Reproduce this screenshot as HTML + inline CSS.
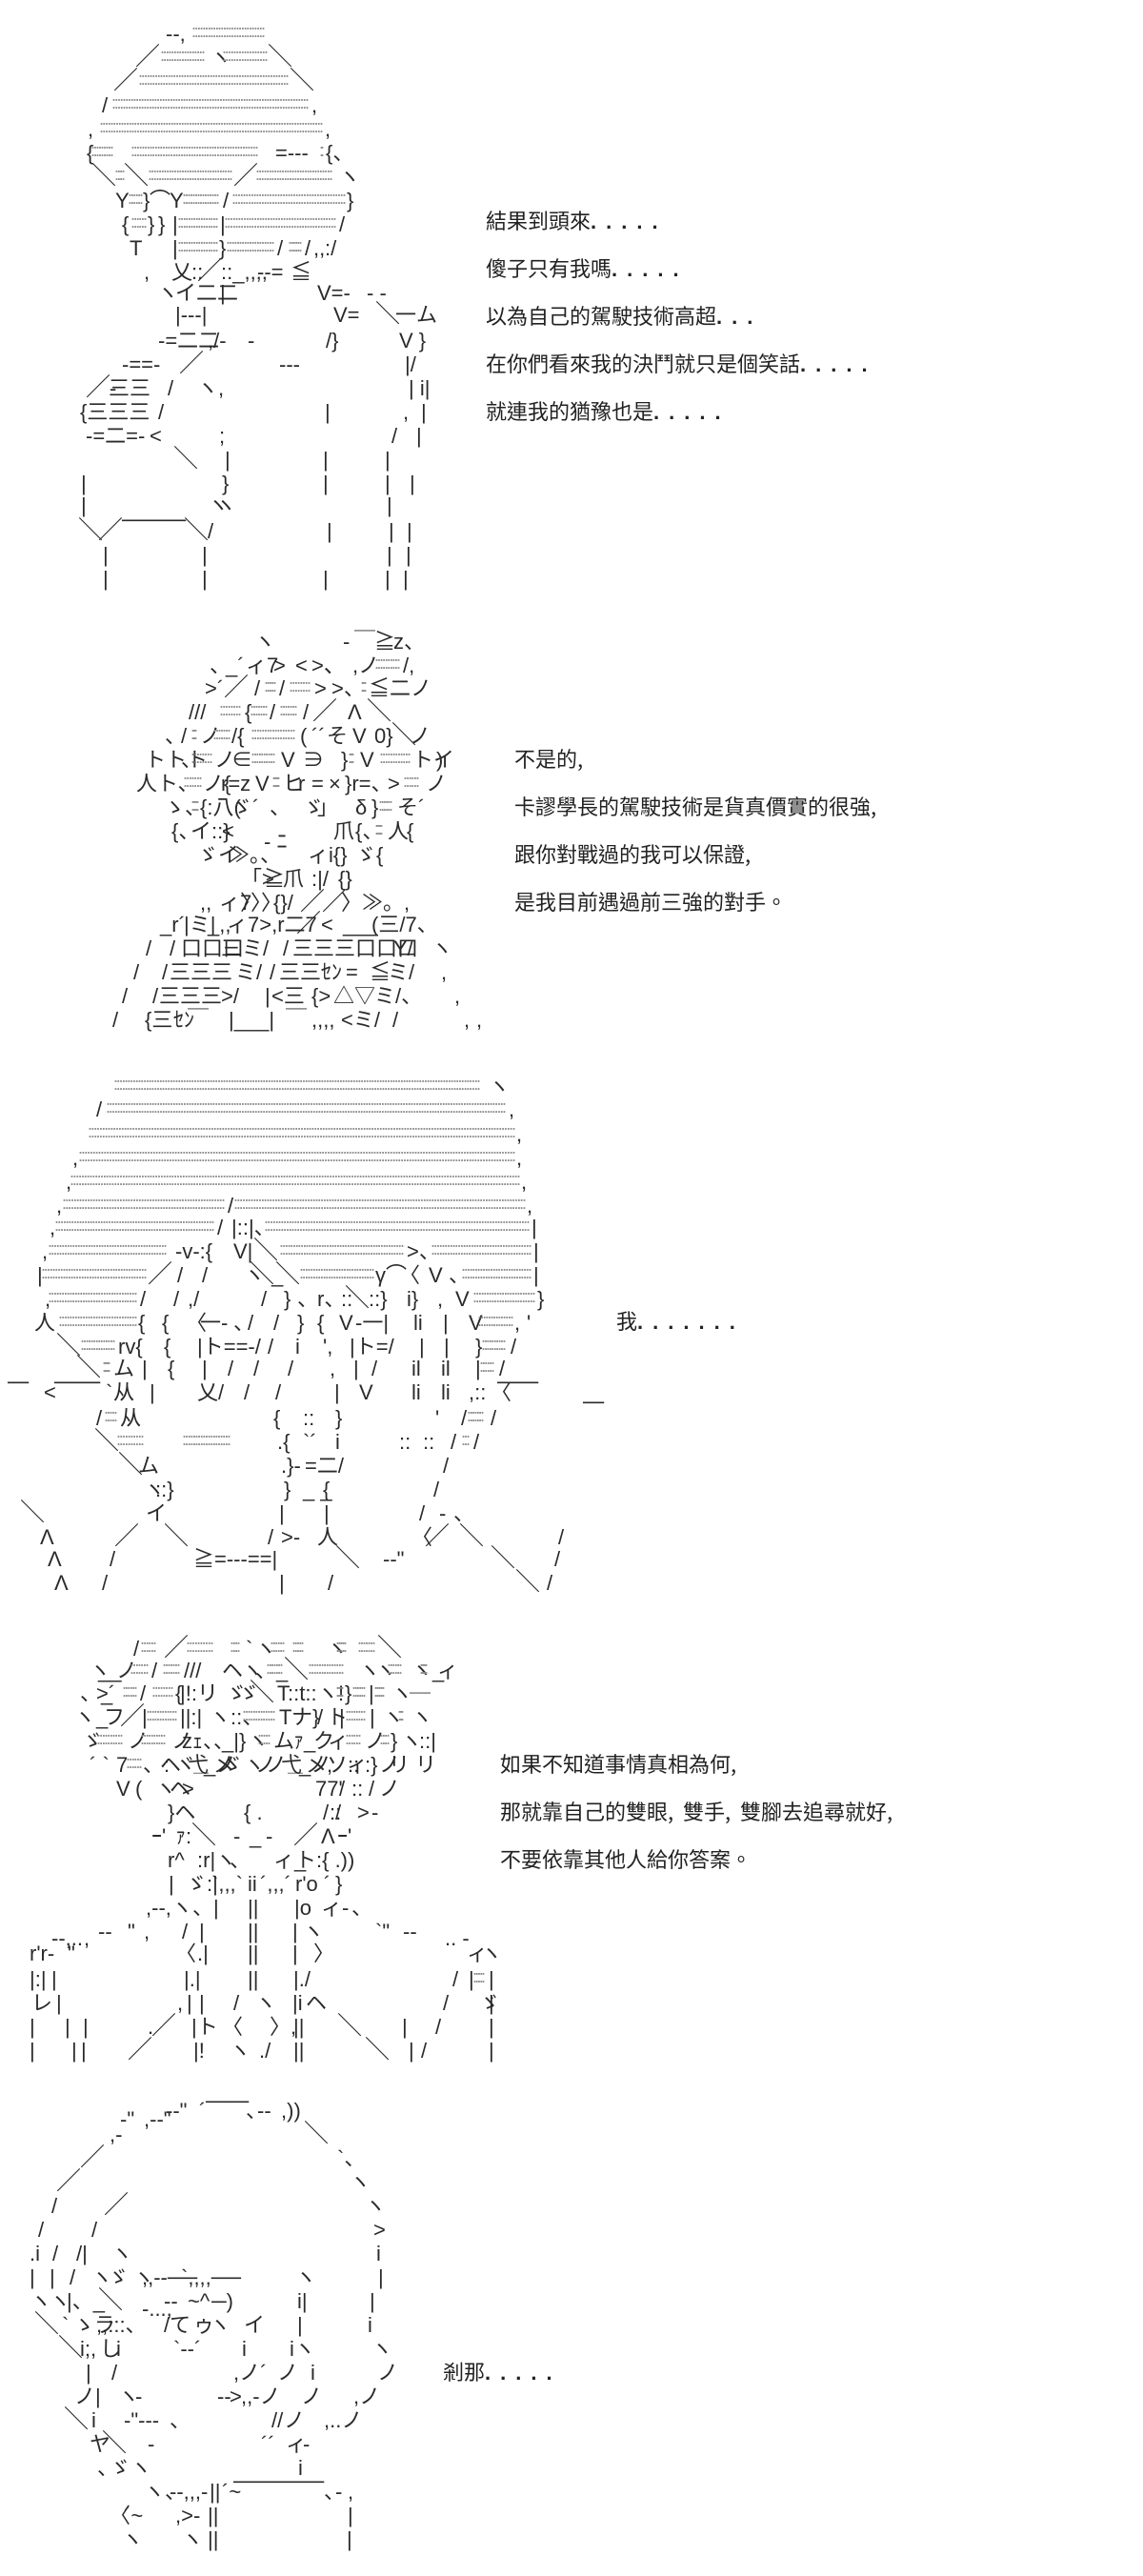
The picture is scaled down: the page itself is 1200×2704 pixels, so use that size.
<!DOCTYPE html>
<html><head><meta charset="utf-8"><style>
html,body{margin:0;padding:0;background:#fff}
svg{display:block}
text{font-family:"Liberation Sans","Noto Sans CJK JP",sans-serif;font-size:22px;fill:#2a2a2a;white-space:pre}
.k{font-size:26px}
.d{font-size:18px;fill:#8c8c8c}
.l{font-family:"Noto Sans CJK TC","Liberation Sans",sans-serif;font-size:22px;fill:#222}
.p{letter-spacing:10px;font-family:"Liberation Sans",sans-serif;font-weight:bold}
</style></head><body>
<svg xmlns="http://www.w3.org/2000/svg" width="1200" height="2704" viewBox="0 0 1200 2704">
<rect width="1200" height="2704" fill="#fff"/>
<!-- panel 1 -->
<text y="43"><tspan x="174">--,</tspan></text>
<text class="d" x="201" y="39" textLength="78">::::::::::::::::::::::::::::</text>
<text y="68"><tspan class="k" x="142">／</tspan><tspan x="221">ヽ</tspan><tspan class="k" x="281">＼</tspan></text>
<text class="d" x="168" y="64" textLength="48">:::::::::::::::::</text><text class="d" x="233" y="64" textLength="49">:::::::::::::::::</text>
<text y="93"><tspan class="k" x="119">／</tspan><tspan class="k" x="304">＼</tspan></text>
<text class="d" x="145" y="89" textLength="159">:::::::::::::::::::::::::::::::::::::::::::::::::::::::::</text>
<text y="118"><tspan x="107">/</tspan><tspan x="327">,</tspan></text>
<text class="d" x="117" y="114" textLength="208">:::::::::::::::::::::::::::::::::::::::::::::::::::::::::::::::::::::::::::</text>
<text y="143"><tspan x="92">,</tspan><tspan x="341">,</tspan></text>
<text class="d" x="104" y="139" textLength="236">:::::::::::::::::::::::::::::::::::::::::::::::::::::::::::::::::::::::::::::::::::::</text>
<text y="168"><tspan x="91">{</tspan><tspan x="289">=---</tspan><tspan x="342">{、</tspan></text>
<text class="d" x="95" y="164" textLength="25">:::::::::</text><text class="d" x="137" y="164" textLength="135">:::::::::::::::::::::::::::::::::::::::::::::::::</text><text class="d" x="335" y="164" textLength="6">::</text>
<text y="193"><tspan class="k" x="96">＼</tspan><tspan class="k" x="130">＼</tspan><tspan class="k" x="245">／</tspan><tspan x="356">ヽ</tspan></text>
<text class="d" x="120" y="189" textLength="12">::::</text><text class="d" x="155" y="189" textLength="90">:::::::::::::::::::::::::::::::::</text><text class="d" x="268" y="189" textLength="82">::::::::::::::::::::::::::::::</text>
<text y="218"><tspan x="121">Y</tspan><tspan x="150">}</tspan><tspan x="157">⌒</tspan><tspan x="178">Y</tspan><tspan x="234">/</tspan><tspan x="364">}</tspan></text>
<text class="d" x="134" y="214" textLength="17">::::::</text><text class="d" x="191" y="214" textLength="40">:::::::::::::::</text><text class="d" x="243" y="214" textLength="121">:::::::::::::::::::::::::::::::::::::::::::</text>
<text y="243"><tspan x="128">{</tspan><tspan x="155">}</tspan><tspan x="166">}</tspan><tspan x="181">|</tspan><tspan x="231">|</tspan><tspan x="356">/</tspan></text>
<text class="d" x="137" y="239" textLength="18">::::::</text><text class="d" x="186" y="239" textLength="44">::::::::::::::::</text><text class="d" x="235" y="239" textLength="119">::::::::::::::::::::::::::::::::::::::::::</text>
<text y="268"><tspan x="136">T</tspan><tspan x="181">|</tspan><tspan x="230">}</tspan><tspan x="291">/</tspan><tspan x="320">/</tspan><tspan x="329">,,</tspan><tspan x="341">:/</tspan></text>
<text class="d" x="186" y="264" textLength="44">::::::::::::::::</text><text class="d" x="237" y="264" textLength="52">:::::::::::::::::::</text><text class="d" x="302" y="264" textLength="16">::::::</text>
<text y="293"><tspan x="151">,</tspan><tspan x="180">乂</tspan><tspan x="201">::</tspan><tspan class="k" x="207">／</tspan><tspan x="232">::_,,,,</tspan><tspan x="270">--=</tspan><tspan x="305">≦</tspan></text>
<text y="315"><tspan x="165">ヽ</tspan><tspan x="184">イ二二</tspan><tspan x="231">|</tspan><tspan x="333">V=-</tspan><tspan x="385">- -</tspan></text>
<text y="338"><tspan x="184">|---|</tspan><tspan x="350">V=</tspan><tspan class="k" x="394">＼</tspan><tspan x="415">一ム</tspan></text>
<text y="365"><tspan x="166">-=二二</tspan><tspan x="218">,/-</tspan><tspan x="260">-</tspan><tspan x="342">/}</tspan><tspan x="419">V }</tspan></text>
<text y="390"><tspan x="128">-==-</tspan><tspan class="k" x="188">／</tspan><tspan x="293">---</tspan><tspan x="425">|/</tspan></text>
<text y="415"><tspan x="115">-</tspan><tspan class="k" x="90">／</tspan><tspan x="114">三三</tspan><tspan x="176">/</tspan><tspan x="207">ヽ,</tspan><tspan x="429">| i|</tspan></text>
<text y="440"><tspan x="84">{三三三</tspan><tspan x="166">/</tspan><tspan x="341">|</tspan><tspan x="423">,</tspan><tspan x="442">|</tspan></text>
<text y="465"><tspan x="90">-=二=-</tspan><tspan x="157">&lt;</tspan><tspan x="230">;</tspan><tspan x="411">/</tspan><tspan x="437">|</tspan></text>
<text y="490"><tspan class="k" x="182">＼</tspan><tspan x="236">|</tspan><tspan x="339">|</tspan><tspan x="404">|</tspan></text>
<text y="515"><tspan x="85">|</tspan><tspan x="233">}</tspan><tspan x="339">|</tspan><tspan x="404">|</tspan><tspan x="430">|</tspan></text>
<text y="538"><tspan x="85">|</tspan><tspan x="218">ヽ</tspan><tspan x="226">ヽ</tspan><tspan x="406">|</tspan></text>
<text y="565"><tspan class="k" x="82">＼</tspan><tspan class="k" x="103">／</tspan><tspan class="k" x="193">＼</tspan><tspan x="218">/</tspan><tspan x="343">|</tspan><tspan x="408">|</tspan><tspan x="427">|</tspan></text>
<text x="128" y="553" textLength="67" lengthAdjust="spacingAndGlyphs">───</text>
<text y="590"><tspan x="108">|</tspan><tspan x="212">|</tspan><tspan x="406">|</tspan><tspan x="426">|</tspan></text>
<text y="615"><tspan x="108">|</tspan><tspan x="212">|</tspan><tspan x="339">|</tspan><tspan x="404">|</tspan><tspan x="423">|</tspan></text>
<!-- panel 1 labels -->
<text class="l" x="510" y="240">結果到頭來<tspan class="p">.....</tspan></text>
<text class="l" x="510" y="290">傻子只有我嗎<tspan class="p">.....</tspan></text>
<text class="l" x="510" y="340">以為自己的駕駛技術高超<tspan class="p">...</tspan></text>
<text class="l" x="510" y="390">在你們看來我的決鬥就只是個笑話<tspan class="p">.....</tspan></text>
<text class="l" x="510" y="440">就連我的猶豫也是<tspan class="p">.....</tspan></text>
<!-- panel 2 -->
<text y="681"><tspan x="267">ヽ</tspan><tspan x="360">-</tspan><tspan x="372">￣</tspan><tspan x="393">≧</tspan><tspan x="413">z、</tspan></text>
<text y="706"><tspan x="220">、</tspan><tspan x="237">_´</tspan><tspan x="258">ィ7</tspan><tspan x="287">&gt;</tspan><tspan x="310">&lt;</tspan><tspan x="327">&gt;、</tspan><tspan x="340">、</tspan><tspan x="370">,ノ</tspan><tspan x="423">/,</tspan></text>
<text class="d" x="393" y="702" textLength="28">::::::::::</text>
<text y="730"><tspan x="215">&gt;´</tspan><tspan class="k" x="235">／</tspan><tspan x="267">/</tspan><tspan x="293">/</tspan><tspan x="330">&gt;</tspan><tspan x="348">&gt;、</tspan><tspan x="387">≦二ノ</tspan></text>
<text class="d" x="277" y="726" textLength="14">:::::</text><text class="d" x="303" y="726" textLength="24">::::::::</text><text class="d" x="378" y="726" textLength="8">:::</text>
<text y="755"><tspan x="198">///</tspan><tspan x="257">{</tspan><tspan x="283">/</tspan><tspan x="318">/</tspan><tspan class="k" x="328">／</tspan><tspan x="365">Λ</tspan><tspan class="k" x="385">＼</tspan></text>
<text class="d" x="230" y="751" textLength="24">::::::::</text><text class="d" x="262" y="751" textLength="20">:::::::</text><text class="d" x="293" y="751" textLength="20">:::::::</text>
<text y="780"><tspan x="173">、</tspan><tspan x="190">/</tspan><tspan x="210">ノ</tspan><tspan x="243">/{</tspan><tspan x="315">(</tspan><tspan x="327">´´</tspan><tspan x="343">そ</tspan><tspan x="370">V</tspan><tspan x="393">0}</tspan><tspan class="k" x="411">＼</tspan><tspan x="430">ノ</tspan></text>
<text class="d" x="200" y="776" textLength="8">:::</text><text class="d" x="223" y="776" textLength="20">:::::::</text><text class="d" x="263" y="776" textLength="48">:::::::::::::::::</text>
<text y="805"><tspan x="152">トトト</tspan><tspan x="190">、</tspan><tspan x="225">ノ</tspan><tspan x="243">∈</tspan><tspan x="295">V</tspan><tspan x="318">∋</tspan><tspan x="358">}</tspan><tspan x="378">V</tspan><tspan x="433">トイ</tspan><tspan x="458">)</tspan></text>
<text class="d" x="200" y="801" textLength="24">::::::::</text><text class="d" x="263" y="801" textLength="27">::::::::::</text><text class="d" x="365" y="801" textLength="8">:::</text><text class="d" x="398" y="801" textLength="34">::::::::::::</text>
<text y="830"><tspan x="143">人</tspan><tspan x="165">ト、</tspan><tspan x="213">ノ{</tspan><tspan x="232">r=z</tspan><tspan x="268">V</tspan><tspan x="297">ヒ</tspan><tspan x="313">r</tspan><tspan x="327">=</tspan><tspan x="345">×</tspan><tspan x="362">}r=、</tspan><tspan x="407">&gt;</tspan><tspan x="447">ノ</tspan></text>
<text class="d" x="192" y="826" textLength="21">:::::::</text><text class="d" x="285" y="826" textLength="10">::::</text><text class="d" x="423" y="826" textLength="18">::::::</text>
<text y="855"><tspan x="172">ゝ、</tspan><tspan x="210">{:八(</tspan><tspan x="243">ゞ´</tspan><tspan x="283">、</tspan><tspan x="318">ゞ</tspan><tspan x="333">」</tspan><tspan x="373">δ</tspan><tspan x="390">}</tspan><tspan x="417">そ´</tspan></text>
<text class="d" x="200" y="851" textLength="10">::::</text><text class="d" x="397" y="851" textLength="16">::::::</text>
<text y="880"><tspan x="180">{、</tspan><tspan x="200">イ::}</tspan><tspan x="233">&lt;</tspan><tspan x="350">爪</tspan><tspan x="373">{、</tspan><tspan x="407">人</tspan><tspan x="427">{</tspan></text>
<text class="d" x="393" y="876" textLength="10">::::</text>
<text y="891"><tspan x="277">- ﾆ</tspan></text>
<text y="905"><tspan x="207">ゞイ</tspan><tspan x="240">≫。、</tspan><tspan x="323">ィi{}</tspan><tspan x="373">ゞ{</tspan></text>
<text y="930"><tspan x="253">「&gt;</tspan><tspan x="277">≧</tspan><tspan x="297">爪</tspan><tspan x="327">:|/</tspan><tspan x="355">{}</tspan></text>
<text y="955"><tspan x="210">,,</tspan><tspan x="230">ィ7</tspan><tspan x="252">〉〉〉</tspan><tspan x="287">{}/</tspan><tspan class="k" x="315">／</tspan><tspan class="k" x="338">／</tspan><tspan x="358">〉≫。,</tspan></text>
<text y="978"><tspan x="168">_r´</tspan><tspan x="193">|ミ|</tspan><tspan x="218">_,,</tspan><tspan x="238">ィ7&gt;,r二7</tspan><tspan class="k" x="311">／</tspan><tspan x="337">&lt;</tspan><tspan x="360">___</tspan><tspan x="390">(三/7、</tspan></text>
<text y="1003"><tspan x="153">/</tspan><tspan x="178">/</tspan><tspan x="190">口口口</tspan><tspan x="232">三ミ/</tspan><tspan x="297">/</tspan><tspan x="307">三三三</tspan><tspan x="373">口口口</tspan><tspan x="413">Y/</tspan><tspan x="453">ヽ</tspan></text>
<text y="1028"><tspan x="140">/</tspan><tspan x="170">/</tspan><tspan x="178">三三三</tspan><tspan x="247">ミ/</tspan><tspan x="283">/</tspan><tspan x="293">三三</tspan><tspan x="337">ｾﾝ</tspan><tspan x="363">=</tspan><tspan x="388">≦</tspan><tspan x="407">ミ/</tspan><tspan x="463">,</tspan></text>
<text y="1053"><tspan x="128">/</tspan><tspan x="160">/</tspan><tspan x="167">三三三</tspan><tspan x="232">&gt;/</tspan><tspan x="278">|</tspan><tspan x="285">&lt;三</tspan><tspan x="327">{&gt;</tspan><tspan x="350">△▽</tspan><tspan x="393">ミ/、</tspan><tspan x="477">,</tspan></text>
<text y="1078"><tspan x="118">/</tspan><tspan x="152">{三</tspan><tspan x="182">ｾﾝ</tspan><tspan x="197">￣</tspan><tspan x="240">|___|</tspan><tspan x="300">￣</tspan><tspan x="327">,,,,</tspan><tspan x="358">&lt;ミ/</tspan><tspan x="412">/</tspan><tspan x="487">,</tspan><tspan x="500">,</tspan></text>
<text class="l" x="540" y="805">不是的,</text>
<text class="l" x="540" y="855">卡謬學長的駕駛技術是貨真價實的很強,</text>
<text class="l" x="540" y="905">跟你對戰過的我可以保證,</text>
<text class="l" x="540" y="955">是我目前遇過前三強的對手。</text>
<!-- panel 3 -->
<text y="1148"><tspan x="513">ヽ</tspan></text>
<text class="d" x="119" y="1144" textLength="386">::::::::::::::::::::::::::::::::::::::::::::::::::::::::::::::::::::::::::::::::::::::::::::::::::::::::::::::::::::::::::::::::::::::::::</text>
<text y="1172"><tspan x="101">/</tspan><tspan x="534">,</tspan></text>
<text class="d" x="111" y="1168" textLength="421">:::::::::::::::::::::::::::::::::::::::::::::::::::::::::::::::::::::::::::::::::::::::::::::::::::::::::::::::::::::::::::::::::::::::::::::::::::::::</text>
<text y="1198"><tspan x="542">,</tspan></text>
<text class="d" x="92" y="1194" textLength="450">:::::::::::::::::::::::::::::::::::::::::::::::::::::::::::::::::::::::::::::::::::::::::::::::::::::::::::::::::::::::::::::::::::::::::::::::::::::::::::::</text>
<text y="1223"><tspan x="76">,</tspan><tspan x="542">,</tspan></text>
<text class="d" x="82" y="1219" textLength="460">::::::::::::::::::::::::::::::::::::::::::::::::::::::::::::::::::::::::::::::::::::::::::::::::::::::::::::::::::::::::::::::::::::::::::::::::::::::::::::::::</text>
<text y="1248"><tspan x="69">,</tspan><tspan x="547">,</tspan></text>
<text class="d" x="73" y="1244" textLength="474">:::::::::::::::::::::::::::::::::::::::::::::::::::::::::::::::::::::::::::::::::::::::::::::::::::::::::::::::::::::::::::::::::::::::::::::::::::::::::::::::::::::</text>
<text y="1273"><tspan x="59">,</tspan><tspan x="239">/</tspan><tspan x="553">,</tspan></text>
<text class="d" x="65" y="1269" textLength="172">::::::::::::::::::::::::::::::::::::::::::::::::::::::::::::</text><text class="d" x="245" y="1269" textLength="308">::::::::::::::::::::::::::::::::::::::::::::::::::::::::::::::::::::::::::::::::::::::::::::::::::::::::::::</text>
<text y="1296"><tspan x="52">,</tspan><tspan x="228">/</tspan><tspan x="243">|::|、</tspan><tspan x="558">|</tspan></text>
<text class="d" x="57" y="1292" textLength="169">::::::::::::::::::::::::::::::::::::::::::::::::::::::::::::</text><text class="d" x="277" y="1292" textLength="280">:::::::::::::::::::::::::::::::::::::::::::::::::::::::::::::::::::::::::::::::::::::::::::::::::::</text>
<text y="1321"><tspan x="44">,</tspan><tspan x="184">-v-:{</tspan><tspan x="245">V|</tspan><tspan class="k" x="266">＼</tspan><tspan x="427">&gt;、</tspan><tspan x="560">|</tspan></text>
<text class="d" x="50" y="1317" textLength="126">:::::::::::::::::::::::::::::::::::::::::::::</text><text class="d" x="293" y="1317" textLength="132">::::::::::::::::::::::::::::::::::::::::::::::::</text><text class="d" x="452" y="1317" textLength="107">::::::::::::::::::::::::::::::::::::::</text>
<text y="1346"><tspan x="39">|</tspan><tspan class="k" x="155">／</tspan><tspan x="186">/</tspan><tspan x="212">/</tspan><tspan x="256">ヽ</tspan><tspan class="k" x="262">＼</tspan><tspan x="285">_</tspan><tspan class="k" x="289">＼</tspan><tspan x="394">γ⌒</tspan><tspan x="419">〈</tspan><tspan x="450">V</tspan><tspan x="471">、</tspan><tspan x="560">|</tspan></text>
<text class="d" x="43" y="1342" textLength="112">::::::::::::::::::::::::::::::::::::::::</text><text class="d" x="314" y="1342" textLength="80">:::::::::::::::::::::::::::::</text><text class="d" x="484" y="1342" textLength="75">:::::::::::::::::::::::::::</text>
<text y="1371"><tspan x="47">,</tspan><tspan x="147">/</tspan><tspan x="182">/</tspan><tspan x="197">,/</tspan><tspan x="274">/</tspan><tspan x="298">}</tspan><tspan x="312">、</tspan><tspan x="333">r、</tspan><tspan x="358">::</tspan><tspan class="k" x="362">＼</tspan><tspan x="387">::}</tspan><tspan x="427">i}</tspan><tspan x="459">,</tspan><tspan x="478">V</tspan><tspan x="564">}</tspan></text>
<text class="d" x="50" y="1367" textLength="95">::::::::::::::::::::::::::::::::::</text><text class="d" x="496" y="1367" textLength="67">::::::::::::::::::::::::</text>
<text y="1396"><tspan x="36">人</tspan><tspan x="145">{</tspan><tspan x="170">{</tspan><tspan x="195">〈</tspan><tspan x="210">一-</tspan><tspan x="245">、</tspan><tspan x="260">/</tspan><tspan x="287">/</tspan><tspan x="312">}</tspan><tspan x="333">{</tspan><tspan x="356">V</tspan><tspan x="373">-一|</tspan><tspan x="434">li</tspan><tspan x="465">|</tspan><tspan x="492">V</tspan><tspan x="540">,</tspan><tspan x="553">'</tspan></text>
<text class="d" x="61" y="1392" textLength="84">::::::::::::::::::::::::::::::</text><text class="d" x="501" y="1392" textLength="39">::::::::::::::</text>
<text y="1421"><tspan class="k" x="59">＼</tspan><tspan x="124">rv{</tspan><tspan x="172">{</tspan><tspan x="207">|ト==-/</tspan><tspan x="281">/</tspan><tspan x="310">i</tspan><tspan x="339">',</tspan><tspan x="367">|ト=/</tspan><tspan x="440">|</tspan><tspan x="466">|</tspan><tspan x="499">}</tspan><tspan x="536">/</tspan></text>
<text class="d" x="84" y="1417" textLength="38">::::::::::::::</text><text class="d" x="505" y="1417" textLength="27">::::::::::</text>
<text y="1444"><tspan class="k" x="80">＼</tspan><tspan x="119">ム</tspan><tspan x="149">|</tspan><tspan x="176">{</tspan><tspan x="212">|</tspan><tspan x="239">/</tspan><tspan x="266">/</tspan><tspan x="302">/</tspan><tspan x="346">,</tspan><tspan x="371">|</tspan><tspan x="390">/</tspan><tspan x="432">il</tspan><tspan x="463">il</tspan><tspan x="499">|</tspan><tspan x="524">/</tspan></text>
<text class="d" x="107" y="1440" textLength="10">::::</text><text class="d" x="503" y="1440" textLength="17">::::::</text>
<text y="1469"><tspan x="111">`</tspan><tspan x="119">从</tspan><tspan x="157">|</tspan><tspan x="207">乂/</tspan><tspan x="256">/</tspan><tspan x="289">/</tspan><tspan x="351">|</tspan><tspan x="377">V</tspan><tspan x="432">li</tspan><tspan x="463">li</tspan><tspan x="492">,::</tspan><tspan x="515">〈</tspan><tspan x="46">&lt;</tspan></text>
<text x="8" y="1458" textLength="22" lengthAdjust="spacingAndGlyphs">─</text><text x="57" y="1458" textLength="48" lengthAdjust="spacingAndGlyphs">──</text><text x="522" y="1458" textLength="43" lengthAdjust="spacingAndGlyphs">──</text><text x="612" y="1479" textLength="22" lengthAdjust="spacingAndGlyphs">─</text>
<text y="1496"><tspan x="101">/</tspan><tspan x="126">从</tspan><tspan x="287">{</tspan><tspan x="318">::</tspan><tspan x="352">}</tspan><tspan x="457">'</tspan><tspan x="484">/</tspan><tspan x="515">/</tspan></text>
<text class="d" x="109" y="1492" textLength="15">:::::</text><text class="d" x="490" y="1492" textLength="19">:::::::</text>
<text y="1521"><tspan class="k" x="99">＼</tspan><tspan x="291">.{</tspan><tspan x="318">`´</tspan><tspan x="352">i</tspan><tspan x="419">::</tspan><tspan x="444">::</tspan><tspan x="473">/</tspan><tspan x="497">/</tspan></text>
<text class="d" x="122" y="1517" textLength="30">::::::::::</text><text class="d" x="191" y="1517" textLength="52">:::::::::::::::::::</text><text class="d" x="484" y="1517" textLength="10">:::</text>
<text y="1546"><tspan class="k" x="124">＼</tspan><tspan x="145">ム</tspan><tspan x="295">.}-</tspan><tspan x="320">=二/</tspan><tspan x="465">/</tspan></text>
<text y="1571"><tspan x="151">ヽ</tspan><tspan x="163">::}</tspan><tspan x="298">}</tspan><tspan x="318">_ _</tspan><tspan x="339">{</tspan><tspan x="455">/</tspan></text>
<text y="1596"><tspan class="k" x="21">＼</tspan><tspan x="153">イ</tspan><tspan x="293">|</tspan><tspan x="340">|</tspan><tspan x="440">/</tspan><tspan x="461">-</tspan><tspan x="476">、</tspan></text>
<text y="1621"><tspan x="42">Λ</tspan><tspan class="k" x="120">／</tspan><tspan class="k" x="172">＼</tspan><tspan x="281">/</tspan><tspan x="295">&gt;-</tspan><tspan x="333">人</tspan><tspan x="432">〈</tspan><tspan class="k" x="446">／</tspan><tspan class="k" x="482">＼</tspan><tspan x="586">/</tspan></text>
<text y="1644"><tspan x="50">Λ</tspan><tspan x="115">/</tspan><tspan x="203">≧=---==|</tspan><tspan class="k" x="352">＼</tspan><tspan x="402">--"</tspan><tspan class="k" x="515">＼</tspan><tspan x="582">/</tspan></text>
<text y="1669"><tspan x="57">Λ</tspan><tspan x="107">/</tspan><tspan x="293">|</tspan><tspan x="344">/</tspan><tspan class="k" x="541">＼</tspan><tspan x="574">/</tspan></text>
<text class="l" x="647" y="1395">我<tspan class="p">.......</tspan></text>
<!-- panel 4 -->
<text y="1738"><tspan x="140">/</tspan><tspan class="k" x="172">／</tspan><tspan x="258">`</tspan><tspan x="268">ヽ</tspan><tspan x="343">ヽ</tspan><tspan class="k" x="396">＼</tspan></text>
<text class="d" x="147" y="1734" textLength="18">::::::</text><text class="d" x="195" y="1734" textLength="30">::::::::::</text><text class="d" x="241" y="1734" textLength="12">::::</text><text class="d" x="283" y="1734" textLength="17">::::::</text><text class="d" x="306" y="1734" textLength="14">:::::</text><text class="d" x="352" y="1734" textLength="13">:::::</text><text class="d" x="375" y="1734" textLength="20">:::::::</text>
<text y="1761"><tspan x="94">ヽ</tspan><tspan x="103">__</tspan><tspan x="122">ノ</tspan><tspan x="159">/</tspan><tspan x="193">///</tspan><tspan x="233">ヘ</tspan><tspan x="254">ヽ</tspan><tspan x="268">、_</tspan><tspan class="k" x="298">＼</tspan><tspan x="377">ヽ</tspan><tspan x="394">ヽ</tspan><tspan x="432">ヽ_</tspan><tspan x="459">ィ</tspan></text>
<text class="d" x="136" y="1757" textLength="21">:::::::</text><text class="d" x="170" y="1757" textLength="20">:::::::</text><text class="d" x="279" y="1757" textLength="19">:::::::</text><text class="d" x="323" y="1757" textLength="39">::::::::::::::</text><text class="d" x="406" y="1757" textLength="17">::::::</text><text class="d" x="440" y="1757" textLength="10">::::</text>
<text x="430" y="1775" textLength="22">＿</text>
<text y="1785"><tspan x="84">、_</tspan><tspan x="101">&gt;´</tspan><tspan x="147">/</tspan><tspan x="184">{</tspan><tspan x="189">|!:リ</tspan><tspan x="237">ゞ</tspan><tspan x="250">ゞ</tspan><tspan class="k" x="262">＼</tspan><tspan x="291">T</tspan><tspan x="302">::t::</tspan><tspan x="333">ヽ!</tspan><tspan x="362">}</tspan><tspan x="387">|</tspan><tspan x="411">ヽ</tspan></text>
<text class="d" x="128" y="1781" textLength="17">::::::</text><text class="d" x="159" y="1781" textLength="24">::::::::</text><text class="d" x="352" y="1781" textLength="10">::::</text><text class="d" x="369" y="1781" textLength="16">::::::</text><text class="d" x="392" y="1781" textLength="13">:::::</text>
<text y="1810"><tspan x="78">ヽ</tspan><tspan x="101">_</tspan><tspan x="109">フ</tspan><tspan class="k" x="126">／</tspan><tspan x="149">|</tspan><tspan x="189">||:|</tspan><tspan x="220">ヽ::、</tspan><tspan x="293">T</tspan><tspan x="306">ナ}</tspan><tspan x="333">/</tspan><tspan x="343">ト</tspan><tspan x="356">|</tspan><tspan x="388">|</tspan><tspan x="402">ヽ</tspan><tspan x="432">ヽ</tspan></text>
<text class="d" x="153" y="1806" textLength="34">::::::::::::</text><text class="d" x="254" y="1806" textLength="36">:::::::::::::</text><text class="d" x="362" y="1806" textLength="23">::::::::</text><text class="d" x="417" y="1806" textLength="8">:::</text>
<text y="1835"><tspan x="86">ゞ</tspan><tspan x="134">ノ</tspan><tspan x="180">ノ</tspan><tspan x="191">zｪ、、</tspan><tspan x="233">_|}</tspan><tspan x="260">ヽ</tspan><tspan x="287">ム</tspan><tspan x="308">ｧ_</tspan><tspan x="329">ク</tspan><tspan x="344">ィ</tspan><tspan x="383">ノ</tspan><tspan x="410">}</tspan><tspan x="421">ヽ</tspan><tspan x="440">::|</tspan></text>
<text class="d" x="101" y="1831" textLength="29">::::::::::</text><text class="d" x="147" y="1831" textLength="28">::::::::::</text><text class="d" x="270" y="1831" textLength="15">:::::</text><text class="d" x="362" y="1831" textLength="18">::::::</text><text class="d" x="398" y="1831" textLength="12">::::</text>
<text y="1860"><tspan x="94">´ `</tspan><tspan x="122">7</tspan><tspan x="150">、:</tspan><tspan x="168">ヘ</tspan><tspan x="184">ヾ</tspan><tspan x="197">弋</tspan><tspan x="214">_ノ</tspan><tspan x="224">メ</tspan><tspan x="233">ゞ</tspan><tspan x="256">ヽ</tspan><tspan x="268">ノ</tspan><tspan x="279">ノ</tspan><tspan x="295">弋</tspan><tspan x="314">_ノ</tspan><tspan x="321">メ,</tspan><tspan x="343">ソ::</tspan><tspan x="364">ィ</tspan><tspan x="383">:}</tspan><tspan x="398">ノ</tspan><tspan x="408">リ</tspan><tspan x="436">リ</tspan></text>
<text class="d" x="132" y="1856" textLength="18">::::::</text>
<text x="203" y="1875" textLength="22" style="font-size:16px">￣</text><text x="302" y="1875" textLength="22" style="font-size:16px">￣</text>
<text y="1885"><tspan x="122">V</tspan><tspan x="142">(</tspan><tspan x="163">ヽ</tspan><tspan x="178">ヘ</tspan><tspan x="191">&gt;</tspan><tspan x="331">77'</tspan><tspan x="356">/</tspan><tspan x="369">::</tspan><tspan x="387">/</tspan><tspan x="398">ノ</tspan></text>
<text y="1910"><tspan x="176">}ヘ</tspan><tspan x="256">{ .</tspan><tspan x="339">/</tspan><tspan x="346">::</tspan><tspan x="352">/</tspan><tspan x="375">&gt;</tspan><tspan x="390">-</tspan></text>
<text y="1935"><tspan x="159">ｰ'</tspan><tspan x="184">ｧ:</tspan><tspan class="k" x="201">＼</tspan><tspan x="245">-</tspan><tspan x="262">_</tspan><tspan x="279">-</tspan><tspan class="k" x="308">／</tspan><tspan x="337">Λ</tspan><tspan x="354">ｰ'</tspan></text>
<text y="1960"><tspan x="176">r^</tspan><tspan x="207">:r|</tspan><tspan x="226">ヽ</tspan><tspan x="241">、</tspan><tspan x="287">ィ_</tspan><tspan x="310">ト:{ .))</tspan></text>
<text y="1985"><tspan x="177">|</tspan><tspan x="195">ゞ:|</tspan><tspan x="222">`,,,`</tspan><tspan x="260">ii</tspan><tspan x="273">´,,,´</tspan><tspan x="310">r'o ´</tspan><tspan x="352">}</tspan></text>
<text y="2010"><tspan x="153">,--,</tspan><tspan x="180">ヽ、|</tspan><tspan x="260">||</tspan><tspan x="309">|o</tspan><tspan x="337">ィ-</tspan><tspan x="369">、</tspan></text>
<text y="2035"><tspan x="103">--</tspan><tspan x="134">"</tspan><tspan x="151">,</tspan><tspan x="191">/</tspan><tspan x="209">|</tspan><tspan x="260">||</tspan><tspan x="307">|</tspan><tspan x="318">ヽ</tspan><tspan x="394">`"</tspan><tspan x="423">--</tspan></text>
<text y="2042"><tspan x="54">--,..</tspan><tspan x="88">,</tspan><tspan x="467">.. -</tspan></text>
<text y="2058"><tspan x="31">r'r-</tspan><tspan x="71">"</tspan><tspan x="184">〈</tspan><tspan x="207">.|</tspan><tspan x="260">||</tspan><tspan x="307">|</tspan><tspan x="329">〉</tspan><tspan x="490">ィ</tspan><tspan x="505">ヽ</tspan></text>
<text y="2085"><tspan x="31">|:|</tspan><tspan x="54">|</tspan><tspan x="193">|.|</tspan><tspan x="260">||</tspan><tspan x="308">|./</tspan><tspan x="475">/</tspan><tspan x="492">|</tspan><tspan x="513">|</tspan></text>
<text class="d" x="496" y="2081" textLength="14">:::::</text>
<text y="2110"><tspan x="33">レ</tspan><tspan x="59">|</tspan><tspan x="186">,</tspan><tspan x="196">|</tspan><tspan x="209">|</tspan><tspan x="245">/</tspan><tspan x="268">ヽ</tspan><tspan x="307">|i</tspan><tspan x="321">ヘ</tspan><tspan x="465">/</tspan><tspan x="503">ゞ</tspan><tspan x="513">|</tspan></text>
<text y="2135"><tspan x="31">|</tspan><tspan x="68">|</tspan><tspan x="87">|</tspan><tspan x="155">.</tspan><tspan class="k" x="159">／</tspan><tspan x="201">|ト</tspan><tspan x="233">〈</tspan><tspan x="283">〉,</tspan><tspan x="308">||</tspan><tspan class="k" x="354">＼</tspan><tspan x="422">|</tspan><tspan x="457">/</tspan><tspan x="513">|</tspan></text>
<text y="2160"><tspan x="31">|</tspan><tspan x="75">|</tspan><tspan x="85">|</tspan><tspan class="k" x="134">／</tspan><tspan x="203">|!</tspan><tspan x="241">ヽ</tspan><tspan x="272">./</tspan><tspan x="308">||</tspan><tspan class="k" x="383">＼</tspan><tspan x="429">|</tspan><tspan x="442">/</tspan><tspan x="513">|</tspan></text>
<text class="l" x="525" y="1860">如果不知道事情真相為何,</text>
<text class="l" x="525" y="1910">那就靠自己的雙眼,  雙手,  雙腳去追尋就好,</text>
<text class="l" x="525" y="1960">不要依靠其他人給你答案。</text>
<!-- panel 5 -->
<text y="2223"><tspan x="174">--"</tspan><tspan x="209">´</tspan><tspan x="258">、</tspan><tspan x="270">--</tspan><tspan x="295">,))</tspan></text>
<text x="216" y="2213" textLength="45" lengthAdjust="spacingAndGlyphs">──</text>
<text y="2232"><tspan x="151">,--"</tspan><tspan x="126">-"</tspan></text>
<text y="2248"><tspan x="115">,-</tspan><tspan class="k" x="319">＼</tspan></text>
<text y="2273"><tspan class="k" x="84">／</tspan><tspan x="354">`、</tspan></text>
<text y="2298"><tspan class="k" x="59">／</tspan><tspan x="367">ヽ</tspan></text>
<text y="2323"><tspan x="54">/</tspan><tspan class="k" x="109">／</tspan><tspan x="383">ヽ</tspan></text>
<text y="2348"><tspan x="40">/</tspan><tspan x="96">/</tspan><tspan x="392">&gt;</tspan></text>
<text y="2373"><tspan x="31">.i</tspan><tspan x="55">/</tspan><tspan x="80">/|</tspan><tspan x="117">ヽ</tspan><tspan x="395">i</tspan></text>
<text y="2398"><tspan x="31">|</tspan><tspan x="52">|</tspan><tspan x="73">/</tspan><tspan x="96">ヽ</tspan><tspan x="113">ゞ</tspan><tspan x="140">ヽ</tspan><tspan x="149">,,--──</tspan><tspan x="190">`,,,,──</tspan><tspan x="310">ヽ</tspan><tspan x="397">|</tspan></text>
<text y="2423"><tspan x="32">ヽ</tspan><tspan x="52">ヽ</tspan><tspan x="70">|、_</tspan><tspan class="k" x="103">＼</tspan><tspan x="172">--</tspan><tspan x="197">~^</tspan><tspan x="222">─)</tspan><tspan x="312">i|</tspan><tspan x="388">|</tspan></text>
<text y="2431"><tspan x="149">-...,</tspan></text>
<text y="2448"><tspan class="k" x="36">＼</tspan><tspan x="65">`</tspan><tspan x="77">ゝラ</tspan><tspan x="101">,,:::、</tspan><tspan x="172">/て</tspan><tspan x="203">ゥ</tspan><tspan x="220">ヽ</tspan><tspan x="256">イ</tspan><tspan x="312">|</tspan><tspan x="386">i</tspan></text>
<text y="2473"><tspan class="k" x="61">＼</tspan><tspan x="84">i;,</tspan><tspan x="105">し</tspan><tspan x="122">i</tspan><tspan x="182">`--´</tspan><tspan x="254">i</tspan><tspan x="304">iヽ</tspan><tspan x="390">ヽ</tspan></text>
<text y="2498"><tspan x="90">|</tspan><tspan x="117">/</tspan><tspan x="245">,ノ´</tspan><tspan x="291">ノ</tspan><tspan x="326">i</tspan><tspan x="396">ノ</tspan></text>
<text y="2523"><tspan x="78">ノ|</tspan><tspan x="124">ヽ</tspan><tspan x="142">-</tspan><tspan x="228">--</tspan><tspan x="241">&gt;</tspan><tspan x="253">,,-ノ</tspan><tspan x="316">ノ</tspan><tspan x="371">,ノ</tspan></text>
<text y="2548"><tspan class="k" x="67">＼</tspan><tspan x="96">i</tspan><tspan x="130">-"---</tspan><tspan x="178">、</tspan><tspan x="285">//</tspan><tspan x="298">ノ</tspan><tspan x="340">,..ノ</tspan></text>
<text y="2573"><tspan x="94">ヤ</tspan><tspan class="k" x="107">＼</tspan><tspan x="155">-</tspan><tspan x="274">´´</tspan><tspan x="300">ィ</tspan><tspan x="318">-</tspan></text>
<text y="2598"><tspan x="102">、</tspan><tspan x="115">ゞヽ</tspan><tspan x="313">i</tspan></text>
<text y="2623"><tspan x="151">ヽ、</tspan><tspan x="178">--,,,-</tspan><tspan x="220">||</tspan><tspan x="233">´~</tspan><tspan x="340">、</tspan><tspan x="352">-</tspan><tspan x="365">,</tspan></text>
<text x="245" y="2612" textLength="95" lengthAdjust="spacingAndGlyphs">────</text>
<text y="2648"><tspan x="115">〈</tspan><tspan x="130">´~</tspan><tspan x="184">,&gt;-</tspan><tspan x="218">||</tspan><tspan x="365">|</tspan></text>
<text y="2673"><tspan x="128">ヽ</tspan><tspan x="191">ヽ</tspan><tspan x="218">||</tspan><tspan x="364">|</tspan></text>
<text class="l" x="465" y="2498">剎那<tspan class="p">.....</tspan></text>
</svg>
</body></html>
